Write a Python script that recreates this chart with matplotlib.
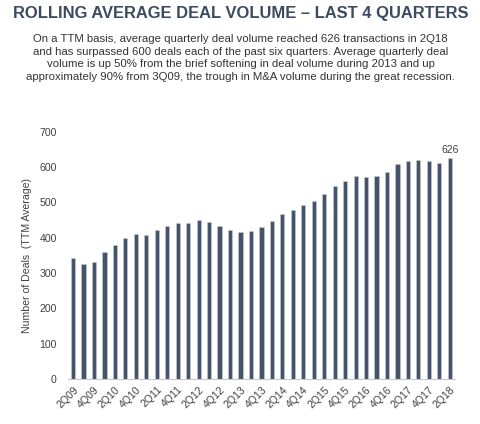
import numpy as np
import matplotlib.pyplot as plt

# trimestres 2Q09 .. 2Q18
quarters = []
for y in range(9, 19):
    for q in range(1, 5):
        quarters.append(f'{q}Q{y:02d}')
quarters = quarters[1:-2]

deals = [344, 325, 332, 360, 379, 399, 411, 408, 421, 433, 441, 443, 450,
         444, 433, 423, 417, 418, 431, 448, 468, 480, 492, 505, 523, 546,
         560, 575, 573, 576, 587, 609, 618, 621, 618, 613, 626]

title = 'ROLLING AVERAGE DEAL VOLUME – LAST 4 QUARTERS'
subtitle = ('On a TTM basis, average quarterly deal volume reached 626 transactions in 2Q18\n'
            'and has surpassed 600 deals each of the past six quarters. Average quarterly deal\n'
            'volume is up 50% from the brief softening in deal volume during 2013 and up\n'
            'approximately 90% from 3Q09, the trough in M&A volume during the great recession.')

plt.rcParams['font.family'] = ['Liberation Sans', 'DejaVu Sans']

fig = plt.figure(figsize=(4.81, 4.24), dpi=100)
ax = fig.add_axes([0.141, 0.106, 0.805, 0.583])

x = np.arange(len(deals))
ax.bar(x, deals, width=0.4, color='#44546a', edgecolor='#c9ccd1', linewidth=0.4)
ax.text(x[-1], deals[-1] + 8, str(deals[-1]), ha='center', va='bottom', fontsize=7.5, color='#404040')

ax.set_xlim(-0.5, len(deals) - 0.5)
ax.set_ylim(0, 700)
ax.set_yticks(range(0, 701, 100))
ax.set_xticks(x[::2])
ax.set_xticklabels(quarters[::2], rotation=45, ha='right', rotation_mode='anchor')
ax.tick_params(axis='both', length=0, labelsize=7.6, colors='#404040', pad=4)
ax.tick_params(axis='y', pad=8)
for s in ['top', 'right', 'left']:
    ax.spines[s].set_visible(False)
ax.spines['bottom'].set_color('#c8c8c8')
ax.set_ylabel('Number of Deals  (TTM Average)', fontsize=7.6, color='#404040', labelpad=5)

fig.text(0.5, 0.968, title, ha='center', va='center', fontsize=11.9, fontweight='bold', color='#3d4b5f')
fig.text(0.5, 0.863, subtitle, ha='center', va='center', fontsize=8.2, color='#333333', linespacing=1.3)

plt.savefig('out.png', dpi=100)
